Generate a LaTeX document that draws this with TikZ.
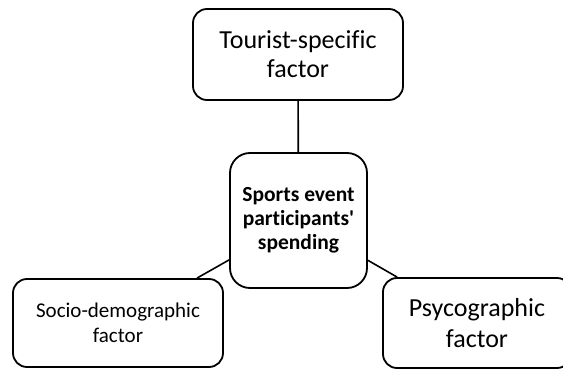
\documentclass[tikz,border=0pt]{standalone}
\usepackage{fontspec}
\setmainfont{Carlito}[Ligatures=NoCommon]
\begin{document}
\begin{tikzpicture}[x=1pt,y=-1pt,
  factorbox/.style={draw, line width=1.8pt, rounded corners=14pt, fill=white,
    align=center, inner sep=0pt},
  link/.style={line width=1.6pt}]
\useasboundingbox (0,0) rectangle (563,369);
\clip (0,0) rectangle (563,369);
% central node and the three factors around it
\node[factorbox, rounded corners=20pt, minimum width=137pt, minimum height=135pt,
  font=\fontsize{21.5}{24}\selectfont\bfseries] (ctr) at (298.5,220.5)
  {Sports event\\participants\textquotesingle\\spending};
\node[factorbox, minimum width=210pt, minimum height=91pt,
  font=\fontsize{26}{29}\selectfont] (tour) at (298,54.5)
  {Tourist-specific\\factor};
\node[factorbox, minimum width=210pt, minimum height=88pt,
  font=\fontsize{21}{25}\selectfont] (socio) at (118,323)
  {Socio-demographic\\factor};
\node[factorbox, minimum width=188pt, minimum height=90pt,
  font=\fontsize{26}{31}\selectfont] (psy) at (477,323)
  {Psycographic\\factor};
% connectors
\draw[link] (tour) -- (ctr);
\draw[link] (socio) -- (ctr);
\draw[link] (psy) -- (ctr);
\end{tikzpicture}
\end{document}
